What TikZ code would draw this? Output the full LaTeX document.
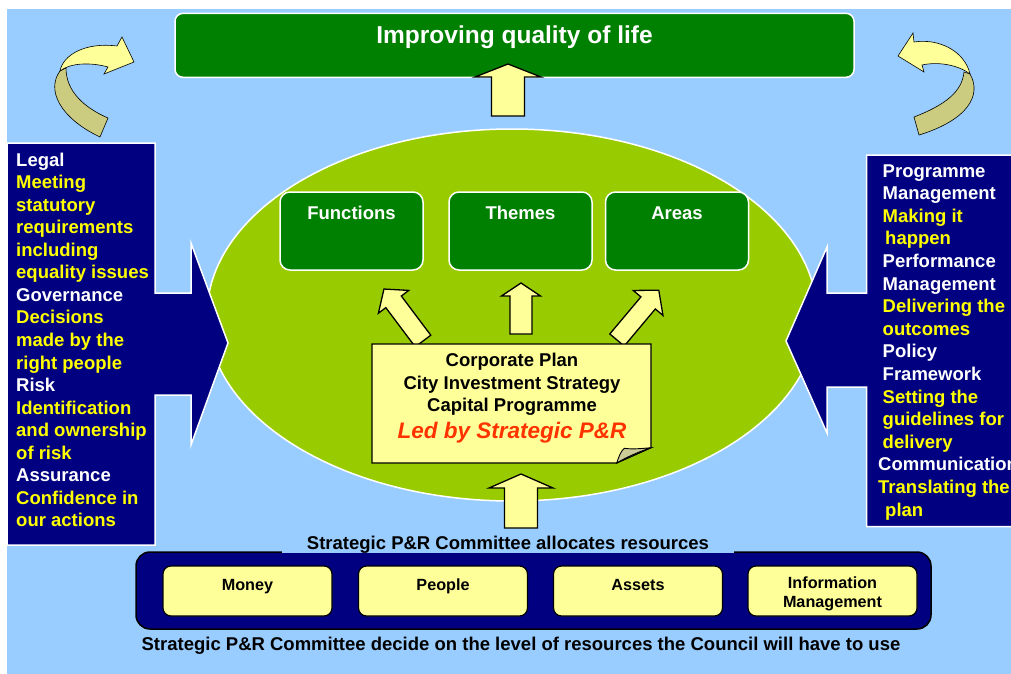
\documentclass[tikz,border=0pt]{standalone}
\usepackage{fontspec}
\setmainfont{Liberation Sans}
\usetikzlibrary{shapes.geometric}

\definecolor{skyblue}{HTML}{99CCFF}
\definecolor{leafgreen}{HTML}{008000}
\definecolor{limegreen}{HTML}{99CC00}
\definecolor{navyblue}{HTML}{000080}
\definecolor{paleyellow}{HTML}{FFFF99}
\definecolor{brightyellow}{HTML}{FFFF00}
\definecolor{olivefold}{HTML}{CCCC80}
\definecolor{flapcolor}{HTML}{CCCC99}
\definecolor{ledred}{HTML}{FF3300}

% block arrow: x, y of the base centre, rotation, length, shaft width, head width, head length
\newcommand{\fatarrow}[7]{%
  \begin{scope}[shift={(#1,#2)}, rotate=#3]
    \draw[blockarrow] (-#5/2,0) -- (-#5/2,{-#4+#7}) -- (-#6/2,{-#4+#7}) -- (0,-#4)
      -- (#6/2,{-#4+#7}) -- (#5/2,{-#4+#7}) -- (#5/2,0) -- cycle;
  \end{scope}}

\begin{document}
\begin{tikzpicture}[x=1pt,y=-1pt,
  blockarrow/.style={fill=paleyellow, draw=black, line width=1.3pt, line join=miter},
  curlfront/.style={fill=paleyellow, draw=black, line width=0.6pt},
  curlback/.style={fill=olivefold, draw=black, line width=0.6pt},
  titlebox/.style={fill=leafgreen, draw=white, line width=1.5pt, rounded corners=8pt,
    minimum width=679pt, inner sep=0pt, text height=30.2pt, text depth=33.8pt,
    text=white, font=\bfseries\fontsize{24.5}{28}\selectfont},
  gbox/.style={fill=leafgreen, draw=white, line width=1.5pt, rounded corners=10pt,
    minimum width=143pt, inner sep=0pt, text height=27pt, text depth=51pt,
    text=white, font=\bfseries\fontsize{18.5}{22}\selectfont},
  navyshape/.style={fill=navyblue, draw=white, line width=1.5pt, line join=miter},
  sidetext/.style={anchor=base west, inner sep=0pt, font=\bfseries\fontsize{18.5}{22}\selectfont},
  doctext/.style={anchor=base, inner sep=0pt, font=\bfseries\fontsize{18.5}{22}\selectfont},
  resbox/.style={fill=paleyellow, draw=black, line width=1.2pt, rounded corners=8pt,
    minimum width=169pt, minimum height=50pt, inner sep=0pt, text height=24pt, text depth=26pt,
    font=\bfseries\fontsize{16.2}{19}\selectfont},
  bottomtext/.style={anchor=base, inner sep=0pt, font=\bfseries\fontsize{18.5}{22}\selectfont}
]
\useasboundingbox (0,0) rectangle (1011,674);

% page and background
\fill[white] (0,0) rectangle (1011,674);
\fill[skyblue] (7,9) rectangle (1011,674);

% curled arrows in the upper corners
\draw[curlback] (60,71) .. controls (46,90) and (60,118) .. (100,137) -- (108,118)
  .. controls (85,108) and (66,92) .. (66,68) -- cycle;
\draw[curlfront] (60,71) .. controls (63,55) and (85,42) .. (117,46) -- (122,37) -- (134,62)
  -- (104,74) -- (108,67) .. controls (90,62) and (70,63) .. (60,71) -- cycle;

\draw[curlback] (970,74) .. controls (982,95) and (968,120) .. (919,135) -- (914,117)
  .. controls (945,105) and (962,92) .. (964,72) -- cycle;
\draw[curlfront] (970,74) .. controls (965,52) and (940,38) .. (914,42) -- (913,33) -- (898,56)
  -- (924,72) -- (922,65) .. controls (940,61) and (960,66) .. (970,74) -- cycle;

% goal
\node[titlebox] (goal) at (514.5,45.3) {Improving quality of life};
\fatarrow{508}{116}{0}{52}{33}{66}{13}

% central ellipse with its three areas
\node[ellipse, fill=limegreen, draw=white, line width=1.5pt, minimum width=610pt,
  minimum height=372pt, inner sep=0pt] (core) at (512,315) {};
\node[gbox] (functions) at (351.5,231) {Functions};
\node[gbox] (themes) at (520.5,231) {Themes};
\node[gbox] (areas) at (677,231) {Areas};

\fatarrow{423}{341}{36.9}{65}{19.4}{38}{16}
\fatarrow{521}{334}{0}{51}{22}{39}{13}
\fatarrow{617}{340}{-40}{65}{18.8}{38.8}{16.6}

% plan document with a curled corner
\draw[fill=paleyellow, draw=black, line width=1.3pt, line join=miter]
  (372,344) -- (651,344) -- (651,447.7) -- (616.7,463) -- (372,463) -- cycle;
\draw[fill=flapcolor, draw=black, line width=0.9pt]
  (616.7,463) .. controls (619,456) and (621,451) .. (624.3,448.3)
  .. controls (633,449.5) and (642,448.5) .. (651,447.7)
  .. controls (638,452) and (627,457) .. (616.7,463) -- cycle;
\node[doctext] (plan1) at (512,366.7) {Corporate Plan};
\node[doctext] (plan2) at (512,389.2) {City Investment Strategy};
\node[doctext] (plan3) at (512,411.7) {Capital Programme};
\node[doctext, text=ledred, font=\bfseries\itshape\fontsize{22.5}{26}\selectfont] (plan4)
  at (512,438.3) {Led by Strategic P\&R};

\fatarrow{521}{528}{0}{54}{33}{64}{14}

% left panel
\draw[navyshape] (7,143) -- (155,143) -- (155,293) -- (191,293) -- (191,243) -- (228,343)
  -- (191,445) -- (191,395) -- (155,395) -- (155,545) -- (7,545) -- cycle;
\foreach \t/\c [count=\i] in {Legal/white, Meeting/brightyellow, statutory/brightyellow,
    requirements/brightyellow, including/brightyellow, equality issues/brightyellow,
    Governance/white, Decisions/brightyellow, made by the/brightyellow,
    right people/brightyellow, Risk/white, Identification/brightyellow,
    and ownership/brightyellow, of risk/brightyellow, Assurance/white,
    Confidence in/brightyellow, our actions/brightyellow}
  \node[sidetext, text=\c] (left\i) at (16,{166+(\i-1)*22.56}) {\t};

% right panel
\draw[navyshape] (1020,155) -- (866.5,155) -- (866.5,293) -- (827,293) -- (827,247) -- (786,341)
  -- (827,433) -- (827,387) -- (866.5,387) -- (866.5,526.5) -- (1020,526.5);
\foreach \t/\c/\x [count=\i] in {Programme/white/882.5, Management/white/882.5,
    Making it/brightyellow/882.5, happen/brightyellow/885, Performance/white/882.5,
    Management/white/882.5, Delivering the/brightyellow/882.5, outcomes/brightyellow/882.5,
    Policy/white/882.5, Framework/white/882.5, Setting the/brightyellow/882.5,
    guidelines for/brightyellow/882.5, delivery/brightyellow/882.5,
    Communication/white/878, Translating the/brightyellow/878, plan/brightyellow/885}
  \node[sidetext, text=\c] (right\i) at (\x,{177+(\i-1)*22.6}) {\t};

% resources
\node[fill=navyblue, draw=black, line width=1.5pt, rounded corners=14pt, minimum width=795pt,
  minimum height=77pt, inner sep=0pt] (resources) at (533.5,590.5) {};
\node[bottomtext, fill=skyblue, inner xsep=25pt, inner ysep=0pt] (allocates) at (508,549)
  {Strategic P\&R Committee allocates resources};
\node[resbox] (money) at (247.5,591) {Money};
\node[resbox] (people) at (443,591) {People};
\node[resbox] (assets) at (638,591) {Assets};
\node[resbox, text height=0pt, text depth=0pt] (info) at (832.5,591) {};
\node[inner sep=0pt, align=center, font=\bfseries\fontsize{16.2}{18.5}\selectfont] (infotext)
  at (832.5,593.6) {Information\\Management};
\node[bottomtext] (decide) at (521,650.7)
  {Strategic P\&R Committee decide on the level of resources the Council will have to use};
\end{tikzpicture}
\end{document}
